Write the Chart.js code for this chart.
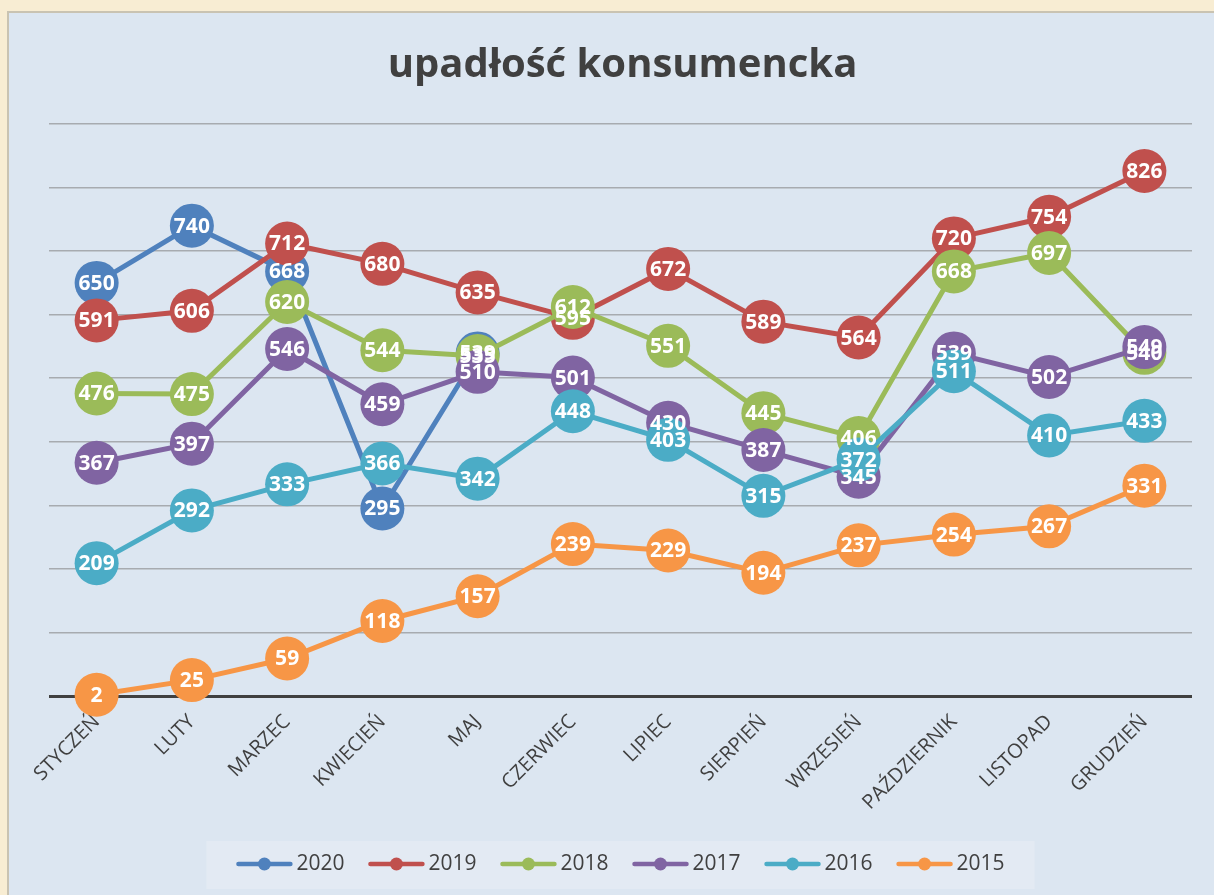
<!DOCTYPE html>
<html lang="pl">
<head>
<meta charset="utf-8">
<title>upadłość konsumencka</title>
<script src="https://cdn.jsdelivr.net/npm/chart.js@4.4.1/dist/chart.umd.min.js"></script>
<style>
  html, body { margin: 0; padding: 0; }
  body { width: 1214px; height: 895px; background: #f8edd3; overflow: hidden; position: relative; }
  #panel {
    position: absolute; left: 7px; top: 11px; width: 1207px; height: 884px;
    background: #dce6f1; border-left: 2px solid #c9c3b2; border-top: 2px solid #c9c3b2;
    box-sizing: border-box;
  }
  #chart { position: absolute; left: 0; top: 0; }
</style>
</head>
<body>
<div id="panel"><canvas id="chart" width="1205" height="882"></canvas></div>
<script>
// months on the x axis
const months = ['STYCZEŃ', 'LUTY', 'MARZEC', 'KWIECIEŃ', 'MAJ', 'CZERWIEC', 'LIPIEC',
                'SIERPIEŃ', 'WRZESIEŃ', 'PAŹDZIERNIK', 'LISTOPAD', 'GRUDZIEŃ'];

// values per year
const years = ['2020', '2019', '2018', '2017', '2016', '2015'];
const y2020 = [650, 740, 668, 295, 539, null, null, null, null, null, null, null];
const y2019 = [591, 606, 712, 680, 635, 595, 672, 589, 564, 720, 754, 826];
const y2018 = [476, 475, 620, 544, 535, 612, 551, 445, 406, 668, 697, 540];
const y2017 = [367, 397, 546, 459, 510, 501, 430, 387, 345, 539, 502, 549];
const y2016 = [209, 292, 333, 366, 342, 448, 403, 315, 372, 511, 410, 433];
const y2015 = [2, 25, 59, 118, 157, 239, 229, 194, 237, 254, 267, 331];

const seriesValues = [y2020, y2019, y2018, y2017, y2016, y2015];
const seriesColors = ['#4f81bd', '#c0504d', '#9bbb59', '#8064a2', '#4bacc6', '#f79646'];

const textColor = '#404040';

// white numbers inside the markers, later years drawn on top
const valueLabels = {
    id: 'valueLabels',
    afterDatasetsDraw(chart) {
        const ctx = chart.ctx;
        ctx.save();
        ctx.font = 'bold 21px "Open Sans"';
        ctx.fillStyle = '#ffffff';
        ctx.textAlign = 'center';
        ctx.textBaseline = 'middle';
        chart.data.datasets.forEach((ds, i) => {
            const meta = chart.getDatasetMeta(i);
            meta.data.forEach((pt, j) => {
                const v = ds.data[j];
                if (v === null || v === undefined) return;
                ctx.fillText(String(v), pt.x, pt.y + 1);
            });
        });
        ctx.restore();
    }
};

// legend with line + dot markers inside a lighter box
const lineLegend = {
    id: 'lineLegend',
    afterDraw(chart) {
        const ctx = chart.ctx;
        const area = chart.chartArea;
        const markerW = 56, gap = 4, spacing = 24;
        ctx.save();
        ctx.font = '21px "Open Sans"';
        const widths = years.map(y => ctx.measureText(y).width);
        let total = 0;
        widths.forEach((w, i) => { total += markerW + gap + w + (i < widths.length - 1 ? spacing : 0); });
        const cx = (area.left + area.right) / 2;
        const cy = 851;
        let x = cx - total / 2;

        ctx.fillStyle = '#e3eaf3';
        ctx.fillRect(x - 30, cy - 23, total + 60, 48);

        ctx.textBaseline = 'middle';
        ctx.textAlign = 'left';
        years.forEach((y, i) => {
            const c = seriesColors[i];
            ctx.strokeStyle = c;
            ctx.lineWidth = 4.5;
            ctx.lineCap = 'round';
            ctx.beginPath();
            ctx.moveTo(x + 2, cy);
            ctx.lineTo(x + markerW - 2, cy);
            ctx.stroke();
            ctx.fillStyle = c;
            ctx.beginPath();
            ctx.arc(x + markerW / 2, cy, 6.5, 0, Math.PI * 2);
            ctx.fill();
            ctx.fillStyle = textColor;
            ctx.fillText(y, x + markerW + gap, cy);
            x += markerW + gap + widths[i] + spacing;
        });
        ctx.restore();
    }
};

const datasets = years.map((y, i) => ({
    label: y,
    data: seriesValues[i],
    borderColor: seriesColors[i],
    backgroundColor: seriesColors[i],
    pointBackgroundColor: seriesColors[i],
    pointBorderColor: seriesColors[i],
    borderWidth: 5,
    pointRadius: 22,
    pointBorderWidth: 0,
    pointHoverRadius: 22,
    tension: 0,
    spanGaps: false,
    clip: false,
    order: years.length - 1 - i
}));

const ctx = document.getElementById('chart').getContext('2d');
new Chart(ctx, {
    type: 'line',
    data: { labels: months, datasets: datasets },
    options: {
        responsive: false,
        animation: false,
        layout: { padding: { left: 40, right: 18, top: 0, bottom: 69 } },
        plugins: {
            legend: { display: false },
            tooltip: { enabled: false },
            title: {
                display: true,
                text: 'upadłość konsumencka',
                color: textColor,
                font: { family: 'Open Sans', size: 40, weight: 'bold' },
                padding: { top: 29, bottom: 34 }
            }
        },
        scales: {
            x: {
                offset: true,
                grid: { display: false },
                border: { display: false },
                ticks: {
                    color: textColor,
                    font: { family: 'Open Sans', size: 20 },
                    minRotation: 45,
                    maxRotation: 45,
                    padding: 6
                },
                afterFit: scale => { scale.height = 130; }
            },
            y: {
                min: 0,
                max: 900,
                ticks: { display: false, stepSize: 100 },
                border: { display: false },
                grid: {
                    drawTicks: false,
                    color: c => c.index === 0 ? '#404040' : '#a7abb0',
                    lineWidth: c => c.index === 0 ? 3 : 1.5
                },
                afterFit: scale => { scale.width = 0; }
            }
        }
    },
    plugins: [valueLabels, lineLegend]
});
</script>
</body>
</html>
